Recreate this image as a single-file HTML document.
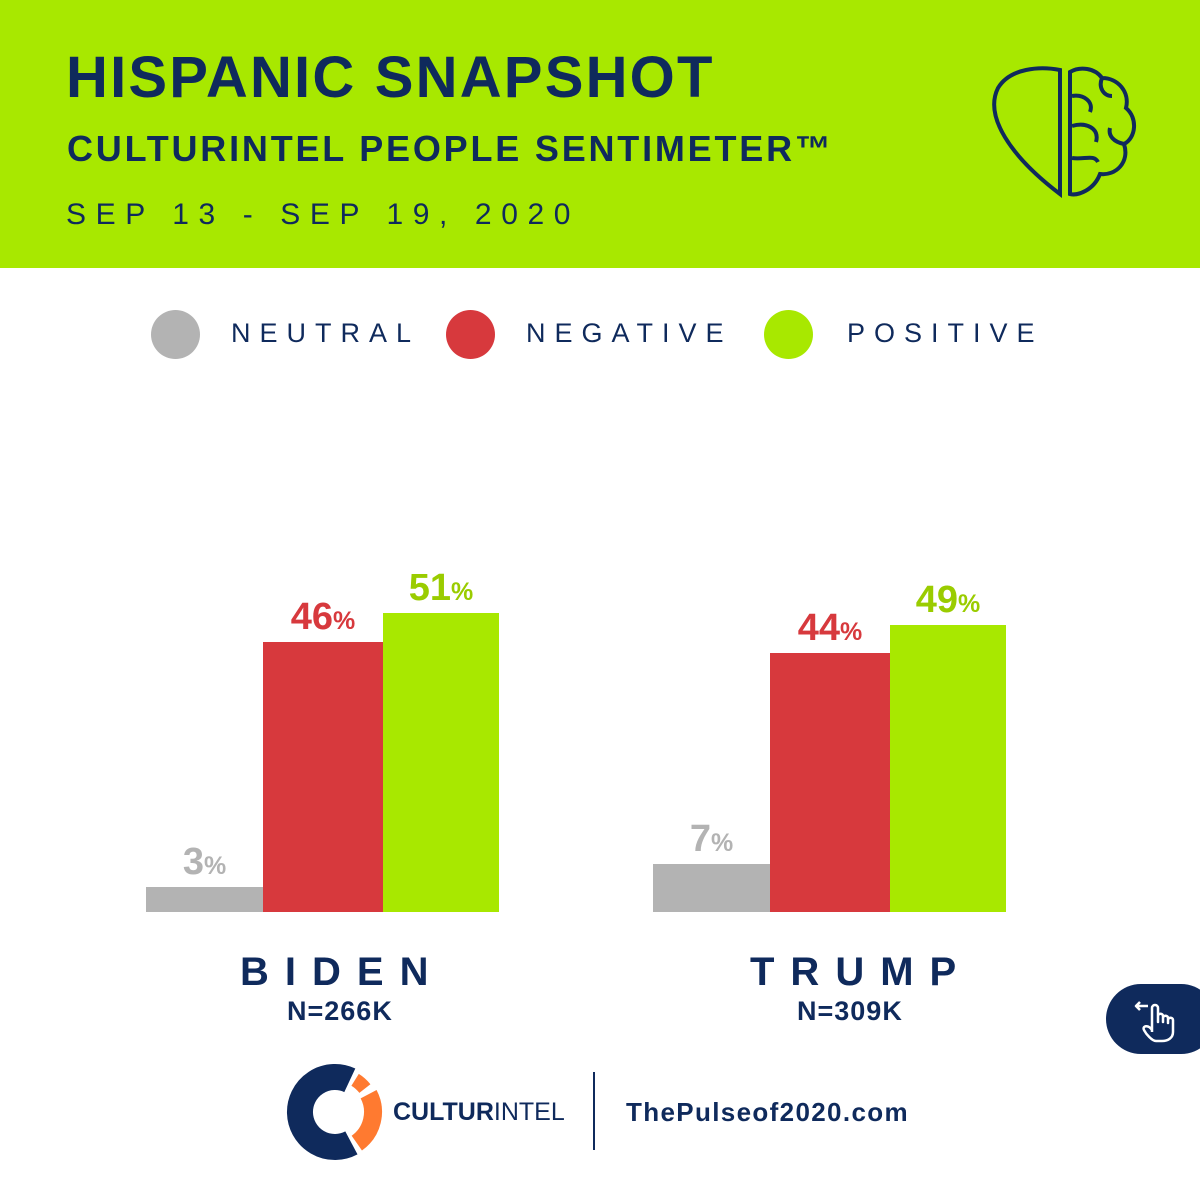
<!DOCTYPE html>
<html><head><meta charset="utf-8"><style>
body{margin:0;width:1200px;height:1200px;background:#fff;position:relative;overflow:hidden;font-family:"Liberation Sans",sans-serif;color:#0f2a5c}
.abs{position:absolute}
</style></head><body>
<div class="abs" style="left:0;top:0;width:1200px;height:268px;background:#a8e800"></div>
<div class="abs" style="left:66px;top:44px;font-size:58px;font-weight:bold;letter-spacing:2.2px;color:#0f2a5c">HISPANIC SNAPSHOT</div>
<div class="abs" style="left:67px;top:128px;font-size:36px;font-weight:bold;letter-spacing:2.8px">CULTURINTEL PEOPLE SENTIMETER™</div>
<div class="abs" style="left:66px;top:198px;font-size:30px;letter-spacing:9.6px">SEP 13 - SEP 19, 2020</div>
<svg class="abs" style="left:990px;top:66px" width="150" height="132" viewBox="0 0 150 132" fill="none" stroke="#0f2a5c" stroke-width="4">
<path d="M70 128 L70 4 C50 0 20 2 8 22 C-6 50 20 90 70 128 Z"/>
<path d="M80 128 L80 6 C90 0 105 2 112 12 C128 12 140 26 136 42 C148 52 146 72 134 78 C140 96 126 110 110 108 C104 124 88 130 80 128 Z"/>
<path d="M82 30 C94 28 104 36 100 46 M82 60 C96 56 110 62 106 76 M82 92 C94 94 104 88 108 96 M112 12 C108 22 114 30 122 30 M134 78 C124 76 118 70 120 62"/>
</svg>
<div id="legend">
<div class="abs" style="left:151px;top:310px;width:49px;height:49px;border-radius:50%;background:#b3b3b3"></div>
<div class="abs" style="left:231px;top:318px;font-size:27px;letter-spacing:9px">NEUTRAL</div>
<div class="abs" style="left:446px;top:310px;width:49px;height:49px;border-radius:50%;background:#d7393d"></div>
<div class="abs" style="left:526px;top:318px;font-size:27px;letter-spacing:9px">NEGATIVE</div>
<div class="abs" style="left:764px;top:310px;width:49px;height:49px;border-radius:50%;background:#a8e800"></div>
<div class="abs" style="left:847px;top:318px;font-size:27px;letter-spacing:9px">POSITIVE</div>
</div>
<div id="chart"></div>
<div class="abs" style="left:240px;top:950px;font-size:40px;font-weight:bold;letter-spacing:16px">BIDEN</div>
<div class="abs" style="left:287px;top:996px;font-size:27px;font-weight:bold;letter-spacing:1px">N=266K</div>
<div class="abs" style="left:750px;top:950px;font-size:40px;font-weight:bold;letter-spacing:16px">TRUMP</div>
<div class="abs" style="left:797px;top:996px;font-size:27px;font-weight:bold;letter-spacing:1px">N=309K</div>
<div class="abs" style="left:1106px;top:984px;width:110px;height:70px;border-radius:35px;background:#0f2a5c">
<svg width="110" height="70" viewBox="0 0 110 70" fill="none" stroke="#fff" stroke-width="2.5" stroke-linejoin="round">
<path d="M42 22 L30 22 M34 18 L30 22 L34 26"/>
<path d="M46 48 L46 24 C46 20 52 20 52 24 L52 38 L52 32 C52 29 57 29 57 32 L57 38 L57 34 C57 31 62 31 62 34 L62 39 L62 36 C62 33 67 33 67 36 L67 48 C67 54 62 57 56 57 L50 57 C46 57 40 50 38 46 C36 42 42 40 46 46"/>
</svg></div>
<svg class="abs" style="left:286px;top:1062px" width="100" height="100" viewBox="0 0 100 100">
<path d="M63.8 18.3 A35 35 0 1 0 65.4 80.9" fill="none" stroke="#0f2a5c" stroke-width="26"/>
<path d="M82.6 32.2 A38 38 0 0 1 70.8 81.1" fill="none" stroke="#ff7a30" stroke-width="18"/>
<path d="M69.1 17.8 A38 38 0 0 1 78.9 26.6" fill="none" stroke="#ff7a30" stroke-width="14"/>
</svg>
<div class="abs" style="left:393px;top:1098px;font-size:25px"><b>CULTUR</b>INTEL</div>
<div class="abs" style="left:593px;top:1072px;width:2px;height:78px;background:#0f2a5c"></div>
<div class="abs" style="left:626px;top:1097px;font-size:26px;font-weight:bold;letter-spacing:1.35px">ThePulseof2020.com</div>
<script>
const groups=['Biden','Trump'];
const neutral=[3,7];
const negative=[46,44];
const positive=[51,49];
const baseY=912, groupX=[146,653], barW=[117,120,116];
const colors=['#b3b3b3','#d7393d','#a8e800'];
const labelColors=['#b3b3b3','#d7393d','#9acc00'];
function yh(v){return 8+5.7*v;}
const chart=document.getElementById('chart');
groups.forEach((g,gi)=>{
  const vals=[neutral[gi],negative[gi],positive[gi]];
  let x=groupX[gi];
  vals.forEach((v,si)=>{
    const h=yh(v);
    const b=document.createElement('div');
    
    
    b.className='abs';
    b.style.cssText=`left:${x}px;top:${baseY-h}px;width:${barW[si]}px;height:${h}px;background:${colors[si]}`;
    chart.appendChild(b);
    const l=document.createElement('div');
    
    
    l.className='abs';
    l.style.cssText=`left:${x}px;width:${barW[si]}px;text-align:center;top:${baseY-h-46}px;font-size:38px;font-weight:bold;color:${labelColors[si]}`;
    l.innerHTML=v+'<span style="font-size:25px">%</span>';
    chart.appendChild(l);
    x+=barW[si];
  });
});
</script>
</body></html>
